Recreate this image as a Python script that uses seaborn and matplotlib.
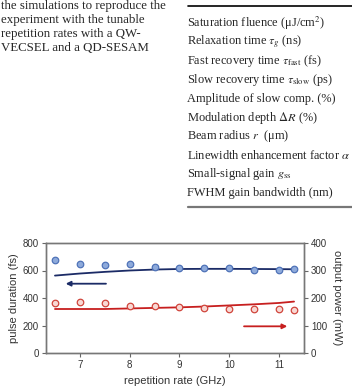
import pandas as pd
import seaborn as sns
import matplotlib.pyplot as plt

sns.set_style("ticks")
plt.rcParams["font.family"] = ["Liberation Sans", "DejaVu Sans"]
plt.rcParams["mathtext.fontset"] = "stix"

# measured points
rep_rate = [6.5, 7.0, 7.5, 8.0, 8.5, 9.0, 9.5, 10.0, 10.5, 11.0, 11.3]
pulse_meas = [674, 647, 642, 645, 623, 620, 616, 616, 606, 606, 611]
power_meas = [182, 185, 182, 170, 170, 166, 165, 160, 160, 160, 158]

# simulation curves
pulse_sim = [563, 578, 590, 600, 607, 611, 612, 612, 611, 610, 609]
power_sim = [160, 160, 160, 162, 164, 166, 169, 173, 177, 182, 187]

left_text = ["the simulations to reproduce the",
             "experiment with the tunable",
             "repetition rates with a QW-",
             "VECSEL and a QD-SESAM"]

table_rows = [r"Saturation fluence (μJ/cm$^2$)",
              r"Relaxation time $\tau_g$ (ns)",
              r"Fast recovery time $\tau_{\mathrm{fast}}$ (fs)",
              r"Slow recovery time $\tau_{\mathrm{slow}}$ (ps)",
              "Amplitude of slow comp. (%)",
              r"Modulation depth $\Delta R$ (%)",
              r"Beam radius $r$  (μm)",
              r"Linewidth enhancement factor $\alpha$",
              r"Small-signal gain $g_{\mathrm{ss}}$",
              "FWHM gain bandwidth (nm)"]

df = pd.DataFrame({"rate": rep_rate, "pulse": pulse_meas, "power": power_meas,
                   "pulse_sim": pulse_sim, "power_sim": power_sim})

W, H = 352, 387
fig = plt.figure(figsize=(W / 100, H / 100), dpi=100)

# page text above the figure
for i, line in enumerate(left_text):
    fig.text(1 / W, 1 - (6 + 14 * i) / H, line, family="Liberation Serif",
             fontsize=9.3, va="center", ha="left")

fig.add_artist(plt.Line2D([188 / W, 1], [1 - 6 / H, 1 - 6 / H], color="black", lw=1.2))
for i, row in enumerate(table_rows):
    fig.text(187 / W, 1 - (23 + 18.9 * i) / H, row, family="Liberation Serif",
             fontsize=8.9, va="center", ha="left")
fig.add_artist(plt.Line2D([188 / W, 1], [1 - 207 / H, 1 - 207 / H], color="#777777", lw=1.6))

# chart
ax = fig.add_axes([46 / W, 1 - 353 / H, (304 - 46) / W, 110 / H])
ax2 = ax.twinx()

blue_line = "#1b2b66"
red_line = "#c71f1f"

sns.lineplot(data=df, x="rate", y="pulse_sim", ax=ax, color=blue_line, lw=1.3)
sns.scatterplot(data=df, x="rate", y="pulse", ax=ax, s=22, color="#8eaadb",
                edgecolor="#4f73b8", linewidth=0.9, zorder=3)
sns.lineplot(data=df, x="rate", y="power_sim", ax=ax2, color=red_line, lw=1.3)
sns.scatterplot(data=df, x="rate", y="power", ax=ax2, s=22, color="#f8d8d4",
                edgecolor="#d0453c", linewidth=0.9, zorder=3)

ax.annotate("", xy=(6.66, 504), xytext=(7.58, 504),
            arrowprops=dict(arrowstyle="-|>", color=blue_line, lw=1.3,
                            mutation_scale=7))
ax2.annotate("", xy=(11.22, 97), xytext=(10.24, 97),
             arrowprops=dict(arrowstyle="-|>", color=red_line, lw=1.3,
                             mutation_scale=7))

ax.set_xlim(6.32, 11.5)
ax.set_ylim(0, 800)
ax2.set_ylim(0, 400)
ax.set_xticks([7, 8, 9, 10, 11])
ax.set_yticks([0, 200, 400, 600, 800])
ax2.set_yticks([0, 100, 200, 300, 400])

ax.set_xlabel("repetition rate (GHz)", fontsize=8, labelpad=4)
ax.set_ylabel("pulse duration (fs)", fontsize=8, labelpad=3)
ax2.set_ylabel("output power (mW)", fontsize=8, rotation=-90, labelpad=11)

for a in (ax, ax2):
    a.tick_params(labelsize=7, length=3, width=0.8, color="#666666",
                  labelcolor="#333333", pad=2)
    for sp in a.spines.values():
        sp.set_visible(True)
        sp.set_color("#777777")
        sp.set_linewidth(1.0)
ax.xaxis.label.set_color("#333333")
ax.yaxis.label.set_color("#333333")
ax2.yaxis.label.set_color("#333333")

fig.savefig("out.png", dpi=100)
